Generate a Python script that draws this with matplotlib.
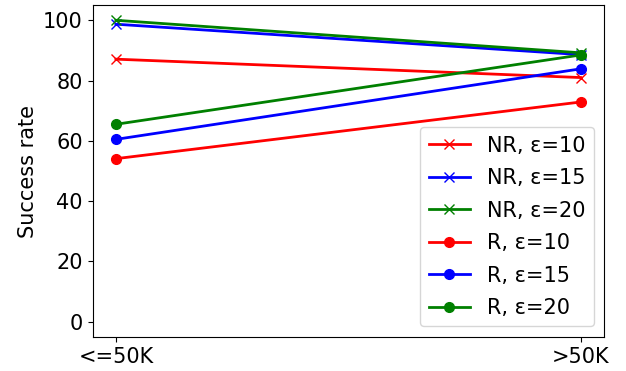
import matplotlib.pyplot as plt

groups = ["<=50K", ">50K"]
nr_10 = [87.1, 81.0]
nr_15 = [98.7, 88.6]
nr_20 = [100.0, 89.2]
r_10 = [54.1, 72.9]
r_15 = [60.5, 83.9]
r_20 = [65.5, 88.5]

plt.rcParams["font.size"] = 15

fig, ax = plt.subplots(figsize=(6.26, 3.71), dpi=100)

x = range(len(groups))
ax.plot(x, nr_10, color="red", marker="x", markersize=7, lw=2, label="NR, ε=10")
ax.plot(x, nr_15, color="blue", marker="x", markersize=7, lw=2, label="NR, ε=15")
ax.plot(x, nr_20, color="green", marker="x", markersize=7, lw=2, label="NR, ε=20")
ax.plot(x, r_10, color="red", marker="o", markersize=7, lw=2, label="R, ε=10")
ax.plot(x, r_15, color="blue", marker="o", markersize=7, lw=2, label="R, ε=15")
ax.plot(x, r_20, color="green", marker="o", markersize=7, lw=2, label="R, ε=20")

ax.set_xticks(list(x))
ax.set_xticklabels(groups)
ax.set_ylim(-5, 105)
ax.set_yticks([0, 20, 40, 60, 80, 100])
ax.set_ylabel("Success rate")
ax.legend(loc="lower right", fontsize=15, labelspacing=0.6)

fig.subplots_adjust(left=0.148, right=0.965, bottom=0.092, top=0.986)
fig.savefig("out.png")
